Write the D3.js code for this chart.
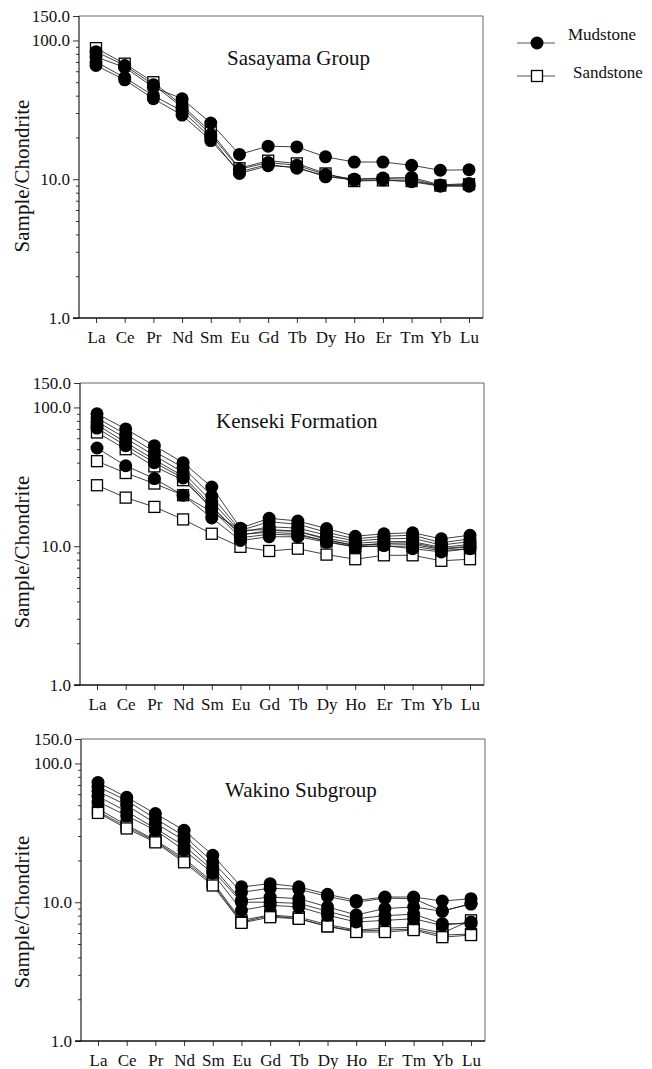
<!DOCTYPE html>
<html>
<head>
<meta charset="utf-8">
<script src="https://cdn.jsdelivr.net/npm/d3@7"></script>
<style>
  html, body { margin: 0; padding: 0; background: #fff; }
  svg { display: block; }
</style>
</head>
<body>
<svg id="chart" width="652" height="1069"></svg>
<script>
// Rare earth elements, chondrite-normalised
const elements = ["La","Ce","Pr","Nd","Sm","Eu","Gd","Tb","Dy","Ho","Er","Tm","Yb","Lu"];
const yTickValues = [1, 10, 100, 150];
const yMinorValues = [2,3,4,5,6,7,8,9,20,30,40,50,60,70,80,90];
const legendLabels = ["Mudstone", "Sandstone"];
const panelTitles = ["Sasayama Group", "Kenseki Formation", "Wakino Subgroup"];

// Sasayama Group
const sasayamaTypes = ["Mudstone","Sandstone","Mudstone","Mudstone","Mudstone"];
const sasayamaValues = [
  [76, 64, 46, 38, 25.4, 15.1, 17.3, 17.1, 14.5, 13.3, 13.3, 12.6, 11.6, 11.7],
  [88, 68, 50, 34, 22.0, 12.0, 13.6, 13.0, 11.0, 9.7, 9.8, 9.7, 9.0, 9.2],
  [83, 66, 48, 33, 21.0, 11.8, 13.2, 12.6, 10.8, 10.0, 10.2, 10.3, 9.1, 9.3],
  [70, 54, 40, 31, 20.0, 11.0, 12.5, 12.2, 10.4, 10.0, 10.1, 10.0, 9.0, 9.0],
  [66, 52, 38, 29, 19.0, 11.3, 12.8, 12.0, 10.6, 9.8, 9.9, 9.6, 8.9, 8.9]
];

// Kenseki Formation
const kensekiTypes = ["Mudstone","Mudstone","Mudstone","Mudstone","Mudstone","Sandstone","Mudstone","Sandstone","Sandstone"];
const kensekiValues = [
  [90, 70, 53, 40, 26.7, 13.5, 15.9, 15.2, 13.4, 11.8, 12.3, 12.5, 11.3, 12.0],
  [84, 64, 48, 37, 23.0, 13.0, 15.0, 14.4, 12.6, 11.3, 11.8, 12.0, 10.6, 11.3],
  [79, 60, 45, 34, 21.0, 12.6, 13.8, 13.5, 12.0, 10.9, 11.3, 11.4, 10.2, 10.8],
  [75, 56, 42, 32, 19.5, 12.0, 13.0, 12.8, 11.4, 10.5, 10.8, 10.8, 9.8, 10.3],
  [71, 53, 40, 31, 18.5, 11.5, 12.2, 12.0, 11.0, 10.2, 10.4, 10.3, 9.5, 9.9],
  [66, 50, 37.6, 29.9, 19.0, 12.2, 12.6, 12.3, 10.8, 9.9, 10.0, 10.0, 9.3, 9.6],
  [51, 38, 30.7, 23.3, 16.0, 11.0, 11.7, 11.7, 10.7, 9.9, 10.1, 9.6, 9.1, 9.6],
  [41, 33.7, 28.3, 23.3, 17.7, 13.0, 13.2, 12.8, 11.2, 10.0, 10.5, 10.6, 9.6, 10.0],
  [27.5, 22.4, 19.2, 15.6, 12.3, 9.9, 9.24, 9.6, 8.7, 8.06, 8.6, 8.6, 7.85, 8.06]
];

// Wakino Subgroup
const wakinoTypes = ["Mudstone","Mudstone","Mudstone","Mudstone","Mudstone","Sandstone","Sandstone","Sandstone"];
const wakinoValues = [
  [73, 57, 43.5, 33, 21.8, 12.9, 13.6, 12.9, 11.4, 10.3, 10.9, 10.9, 10.2, 10.6],
  [68, 54, 40, 30, 19.5, 11.8, 12.6, 12.4, 11.0, 10.0, 10.7, 10.6, 8.65, 9.7],
  [63, 50, 37, 28, 18.0, 10.3, 10.9, 10.6, 9.25, 8.1, 9.0, 9.25, 8.6, 9.8],
  [58, 45, 34, 25.5, 17.0, 10.0, 10.0, 9.8, 8.6, 7.6, 8.0, 8.2, 7.0, 7.0],
  [53, 42, 33, 23.7, 16.2, 8.75, 9.5, 9.25, 8.06, 7.2, 7.4, 7.6, 6.8, 7.2],
  [47, 36, 28, 20.7, 14.0, 7.4, 8.1, 7.8, 6.9, 6.3, 6.5, 6.6, 6.0, 7.4],
  [45, 35, 27.5, 20.0, 13.6, 7.2, 8.0, 7.6, 6.7, 6.2, 6.3, 6.4, 5.8, 5.9],
  [44, 34, 27, 19.4, 13.2, 7.1, 7.8, 7.6, 6.7, 6.1, 6.1, 6.3, 5.6, 5.8]
];

const panels = [
  { title: panelTitles[0], types: sasayamaTypes, values: sasayamaValues,
    left: 79, right: 483, top: 16, bottom: 318, titleX: 227, titleY: 65, labelY: 176 },
  { title: panelTitles[1], types: kensekiTypes, values: kensekiValues,
    left: 80, right: 484, top: 383, bottom: 685, titleX: 216, titleY: 428, labelY: 552 },
  { title: panelTitles[2], types: wakinoTypes, values: wakinoValues,
    left: 81, right: 485, top: 739, bottom: 1041, titleX: 225, titleY: 797, labelY: 912 }
];

const svg = d3.select("#chart");
const CIRCLE_R = 6.5;
const SQUARE = 11;
const SERIF = "\"Liberation Serif\"";
const INK = "#111";

function drawMarker(g, type, cx, cy) {
  if (type === "Mudstone") {
    g.append("circle").attr("cx", cx).attr("cy", cy).attr("r", CIRCLE_R)
      .attr("fill", "#000");
  } else {
    g.append("rect").attr("x", cx - SQUARE / 2).attr("y", cy - SQUARE / 2)
      .attr("width", SQUARE).attr("height", SQUARE)
      .attr("fill", "#fff").attr("stroke", "#000").attr("stroke-width", 1.3);
  }
}

function serifText(sel, size) {
  return sel.style("font-family", SERIF).style("font-size", size + "px").style("fill", INK);
}

panels.forEach(p => {
  const g = svg.append("g");

  const x = d3.scalePoint().domain(elements).range([p.left + 17, p.left + 390]);
  const y = d3.scaleLog().domain([1, 150]).range([p.bottom, p.top]);

  // frame: light top/right edges, darker axes
  g.append("line").attr("x1", p.left).attr("x2", p.right).attr("y1", p.top).attr("y2", p.top)
    .attr("stroke", "#666").attr("stroke-width", 1);
  g.append("line").attr("x1", p.right).attr("x2", p.right).attr("y1", p.top).attr("y2", p.bottom)
    .attr("stroke", "#666").attr("stroke-width", 1);

  // y axis, major and minor ticks
  const yAxis = g.append("g").attr("transform", `translate(${p.left},0)`)
    .call(d3.axisLeft(y).tickValues(yTickValues).tickFormat(d3.format(".1f"))
      .tickSize(6).tickPadding(3));
  yAxis.select(".domain").remove();
  serifText(yAxis.selectAll("text"), 17);
  yAxis.selectAll("line").attr("stroke", "#333");

  const yMinor = g.append("g").attr("transform", `translate(${p.left},0)`)
    .call(d3.axisLeft(y).tickValues(yMinorValues).tickFormat("").tickSize(3));
  yMinor.select(".domain").remove();
  yMinor.selectAll("line").attr("stroke", "#333");

  // x axis
  const xAxis = g.append("g").attr("transform", `translate(0,${p.bottom})`)
    .call(d3.axisBottom(x).tickSize(5).tickPadding(8));
  xAxis.select(".domain").remove();
  serifText(xAxis.selectAll("text"), 17);
  xAxis.selectAll("line").attr("stroke", "#333");

  g.append("line").attr("x1", p.left).attr("x2", p.left).attr("y1", p.top).attr("y2", p.bottom)
    .attr("stroke", "#222").attr("stroke-width", 1.2);
  g.append("line").attr("x1", p.left - 6).attr("x2", p.right).attr("y1", p.bottom).attr("y2", p.bottom)
    .attr("stroke", "#111").attr("stroke-width", 1.4);

  // axis title
  serifText(g.append("text"), 21)
    .attr("transform", `translate(29,${p.labelY}) rotate(-90)`)
    .attr("text-anchor", "middle")
    .text("Sample/Chondrite");

  // panel title
  serifText(g.append("text"), 21)
    .attr("x", p.titleX).attr("y", p.titleY)
    .text(p.title);

  // connecting lines
  const line = d3.line().x((d, i) => x(elements[i])).y(d => y(d));
  p.values.forEach(vals => {
    g.append("path").attr("d", line(vals))
      .attr("fill", "none").attr("stroke", "#111").attr("stroke-width", 0.8);
  });

  // markers: open squares underneath, filled circles on top
  ["Sandstone", "Mudstone"].forEach(kind => {
    p.values.forEach((vals, si) => {
      if (p.types[si] !== kind) return;
      vals.forEach((v, i) => drawMarker(g, kind, x(elements[i]), y(v)));
    });
  });
});

// legend
const legend = svg.append("g");
const legendRows = [
  { label: legendLabels[0], lineY: 43, textX: 568, textY: 40 },
  { label: legendLabels[1], lineY: 76, textX: 573, textY: 78 }
];
legendRows.forEach(r => {
  legend.append("line").attr("x1", 517).attr("x2", 555).attr("y1", r.lineY).attr("y2", r.lineY)
    .attr("stroke", "#555").attr("stroke-width", 1);
  drawMarker(legend, r.label, 537, r.lineY);
  serifText(legend.append("text"), 17)
    .attr("x", r.textX).attr("y", r.textY)
    .text(r.label);
});
</script>
</body>
</html>
